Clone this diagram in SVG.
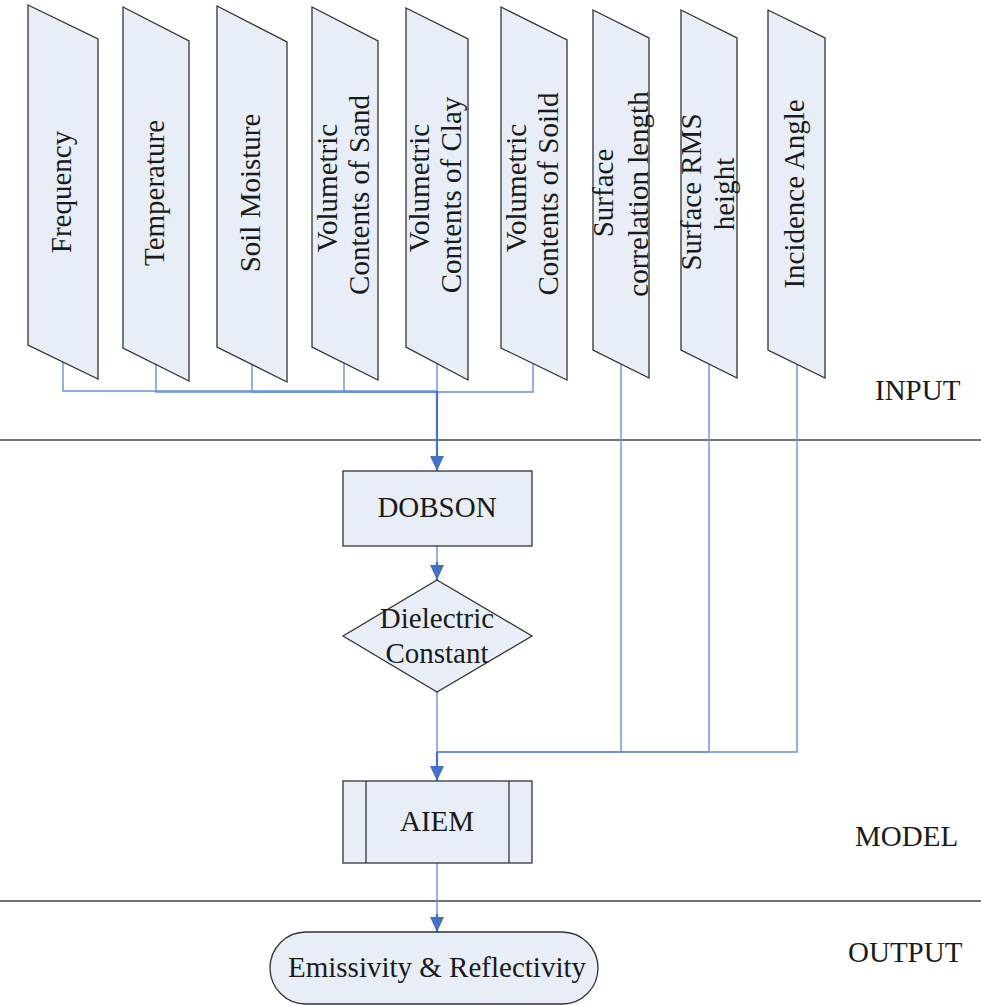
<svg xmlns="http://www.w3.org/2000/svg" width="981" height="1005" viewBox="0 0 981 1005">
<defs>
<style>
.n{fill:#E8EEF7;stroke:#333;stroke-width:1.3}
.t{font-family:"Liberation Serif","Times New Roman",serif;font-size:29px;fill:#1a1a1a;text-anchor:middle}
.lbl{font-family:"Liberation Serif","Times New Roman",serif;font-size:29px;fill:#1a1a1a}
.sep{stroke:#444;stroke-width:1.3;fill:none}
.c{fill:none;stroke:#6B91D2;stroke-width:1.4}
.m{fill:none;stroke:#4472C4;stroke-width:2.2}
</style>
<marker id="arr" markerUnits="userSpaceOnUse" markerWidth="15" markerHeight="14" refX="15" refY="7" orient="auto" viewBox="0 0 15 14">
<path d="M0,0 L15,7 L0,14 z" fill="#4472C4"/>
</marker>
</defs>
<rect width="981" height="1005" fill="#fff"/>

<g id="separators">
<line class="sep" x1="0" y1="440" x2="981" y2="440"/>
<line class="sep" x1="0" y1="901" x2="981" y2="901"/>
</g>

<g id="connectors">
<polyline class="c" points="63,362 63,391 437,391"/>
<polyline class="c" points="156,363 156,392 437,392"/>
<polyline class="c" points="252,364 252,392 437,392"/>
<polyline class="c" points="344,362 344,392 437,392"/>
<polyline class="c" points="533,364 533,392 437,392"/>
<line class="c" x1="437" y1="362" x2="437" y2="392"/>
<line class="m" x1="437" y1="391" x2="437" y2="471" marker-end="url(#arr)"/>
<line class="c" x1="437" y1="546" x2="437" y2="565"/>
<line class="m" x1="437" y1="562" x2="437" y2="580" marker-end="url(#arr)"/>
<line class="c" x1="437" y1="692" x2="437" y2="752"/>
<polyline class="c" points="621,364 621,752 437,752"/>
<polyline class="c" points="709,364 709,752 437,752"/>
<polyline class="c" points="797,364 797,752 437,752"/>
<line class="m" x1="437" y1="752" x2="437" y2="781" marker-end="url(#arr)"/>
<line class="c" x1="437" y1="863" x2="437" y2="920"/>
<line class="m" x1="437" y1="914" x2="437" y2="932" marker-end="url(#arr)"/>
</g>

<g id="frequency">
<polygon class="n" points="28,5 98,39 98,379 28,345"/>
<text class="t" transform="translate(71,192) rotate(-90)">Frequency</text>
</g>
<g id="temperature">
<polygon class="n" points="123,7 189,41 189,381 123,348"/>
<text class="t" transform="translate(164,193) rotate(-90)">Temperature</text>
</g>
<g id="soil-moisture">
<polygon class="n" points="217,6 287,42 287,382 217,347"/>
<text class="t" transform="translate(260,193) rotate(-90)">Soil Moisture</text>
</g>
<g id="sand">
<polygon class="n" points="312,7 378,41 378,380 312,347"/>
<text class="t" transform="translate(337,188) rotate(-90)">Volumetric</text>
<text class="t" transform="translate(369,195) rotate(-90)">Contents of Sand</text>
</g>
<g id="clay">
<polygon class="n" points="406,8 468,39 468,380 406,347"/>
<text class="t" transform="translate(429,188) rotate(-90)">Volumetric</text>
<text class="t" transform="translate(461,195) rotate(-90)">Contents of Clay</text>
</g>
<g id="soild">
<polygon class="n" points="501,7 567,40 567,380 501,348"/>
<text class="t" transform="translate(526,188) rotate(-90)">Volumetric</text>
<text class="t" transform="translate(558,194) rotate(-90)">Contents of Soild</text>
</g>
<g id="corr-length">
<polygon class="n" points="593,10 649,38 649,378 593,350"/>
<text class="t" transform="translate(613,193) rotate(-90)">Surface</text>
<text class="t" transform="translate(648,194) rotate(-90)">correlation length</text>
</g>
<g id="rms-height">
<polygon class="n" points="681,10 737,38 737,378 681,350"/>
<text class="t" transform="translate(701,192) rotate(-90)">Surface RMS</text>
<text class="t" transform="translate(734,194) rotate(-90)">height</text>
</g>
<g id="incidence">
<polygon class="n" points="768,10 825,38 825,378 768,350"/>
<text class="t" transform="translate(804,194) rotate(-90)">Incidence Angle</text>
</g>

<g id="dobson">
<rect class="n" x="343" y="471" width="189" height="75"/>
<text class="t" x="437" y="517">DOBSON</text>
</g>
<g id="dielectric">
<polygon class="n" points="437,580 532,636 437,692 343,636"/>
<text class="t" x="437" y="628">Dielectric</text>
<text class="t" x="437" y="663">Constant</text>
</g>
<g id="aiem">
<rect class="n" x="343" y="781" width="189" height="82"/>
<line class="n" x1="366" y1="781" x2="366" y2="863"/>
<line class="n" x1="509" y1="781" x2="509" y2="863"/>
<text class="t" x="437" y="831">AIEM</text>
</g>
<g id="output">
<rect class="n" x="270" y="932" width="328" height="72" rx="36" ry="36"/>
<text class="t" x="437" y="977">Emissivity &amp; Reflectivity</text>
</g>

<g id="labels">
<text class="lbl" x="875" y="400">INPUT</text>
<text class="lbl" x="855" y="846">MODEL</text>
<text class="lbl" x="848" y="962">OUTPUT</text>
</g>
</svg>
